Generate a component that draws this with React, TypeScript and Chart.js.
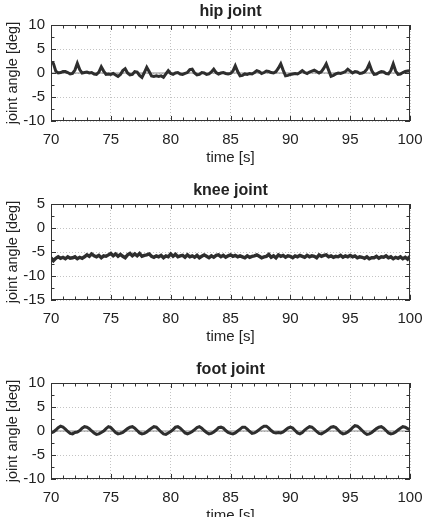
import React, { useEffect, useRef } from "react";
import { Chart, registerables } from "chart.js";

Chart.register(...registerables);

// sampling grid of the recorded signals
const TIME_START = 70;
const TIME_STEP = 0.2;
const X_MIN = 70;
const X_MAX = 100;
const X_TICK_STEP = 5;

const TITLES = ["hip joint", "knee joint", "foot joint"];
const X_LABEL = "time [s]";
const Y_LABEL = "joint angle [deg]";

const HIP_RANGE = [-10, 10];
const KNEE_RANGE = [-15, 5];
const FOOT_RANGE = [-10, 10];

// hip joint angle [deg], one row per second (0.2 s steps)
const HIP = [
  2.3, 2.0, 0.4, 0.0, 0.1,
  0.3, 0.3, 0.1, -0.2, -0.1,
  0.6, 2.0, 0.7, 0.0, 0.1,
  0.2, 0.0, 0.1, -0.2, -0.3,
  0.2, 1.3, 0.4, -0.3, -0.2,
  -0.3, -0.1, -0.4, -0.7, -0.3,
  0.5, 0.9, 0.0, -0.4, -0.3,
  0.3, 0.2, -0.5, -0.9, 0.1,
  1.2, 0.3, -0.6, -0.7, -0.6,
  -0.7, -0.6, -0.9, -0.2, 0.5,
  -0.1, -0.3, 0.0, 0.1, -0.2,
  -0.3, -0.1, 0.1, 0.7, 0.8,
  0.0, -0.4, -0.3, 0.1, 0.0,
  -0.3, -0.2, 0.2, 0.8, 0.1,
  -0.2, 0.0, 0.1, -0.1, -0.2,
  -0.1, 0.4, 1.5, 0.3, -0.6,
  -0.5, -0.2, -0.3, -0.1, -0.2,
  0.1, 0.5, 0.3, -0.1, 0.1,
  0.4, 0.3, 0.1, 0.0, 0.3,
  1.0, 1.9, 0.6, -0.6, -0.5,
  -0.3, -0.2, -0.1, -0.2, 0.1,
  0.5, 0.1, -0.1, 0.2, 0.4,
  0.6, 0.3, 0.0, 0.3, 1.0,
  1.9, 0.6, -0.7, -0.5, -0.2,
  0.0, -0.1, 0.1, 0.3, 0.8,
  0.4, 0.0, 0.3, 0.2, -0.1,
  0.0, 0.2, 0.8, 1.9, 0.5,
  -0.3, -0.2, 0.1, 0.3, 0.2,
  -0.1, -0.2, 0.5, 1.9, 0.4,
  -0.3, -0.2, 0.1, 0.3, 0.4,
  0.5,
];

// knee joint angle [deg]
const KNEE = [
  -6.2, -6.8, -6.3, -6.0, -6.3,
  -6.1, -6.4, -6.0, -6.3, -6.2,
  -6.0, -6.4, -6.1, -6.3, -6.0,
  -5.6, -5.9, -5.4, -5.8, -6.0,
  -5.7, -6.2, -5.8, -5.9, -5.6,
  -5.3, -5.8, -5.4, -5.9, -5.5,
  -5.9, -6.2, -5.6, -5.3, -5.8,
  -5.4, -5.8, -5.3, -5.9, -5.7,
  -5.6, -5.4, -5.9, -6.1, -5.8,
  -6.0, -5.7, -6.2, -5.8, -6.0,
  -5.4, -5.9, -5.5, -6.0, -5.8,
  -5.7, -6.1, -5.6, -6.0, -5.8,
  -6.1, -5.7, -6.2, -5.9, -5.6,
  -5.9, -6.2, -5.8, -6.1, -5.7,
  -5.6, -6.0, -5.7, -6.1, -5.8,
  -5.6, -5.9, -5.7, -6.0, -5.8,
  -6.0, -6.2, -5.8, -6.1, -5.9,
  -5.8, -5.6, -5.9, -6.2, -6.0,
  -5.9, -5.5, -6.1, -5.8, -6.2,
  -5.6, -5.9, -5.7, -6.1, -5.8,
  -5.9, -6.2, -5.8, -6.0, -5.7,
  -5.9, -6.1, -5.7, -6.0, -5.8,
  -5.9, -6.2, -5.6, -5.9, -5.7,
  -5.6, -6.0, -5.8, -6.1, -5.9,
  -6.0, -5.7, -6.1, -5.8, -6.0,
  -5.7, -6.0, -5.8, -6.2, -6.0,
  -6.1, -6.3, -6.0, -6.4, -6.2,
  -6.2, -5.9, -6.3, -6.0, -6.1,
  -5.8, -6.2, -6.0, -6.4, -6.1,
  -6.3, -6.0, -6.4, -6.1, -6.5,
  -5.9,
];

// foot joint angle [deg]
const FOOT = [
  -0.4, -0.2, 0.2, 0.7, 1.0,
  0.8, 0.4, -0.1, -0.5, -0.6,
  -0.3, -0.2, 0.1, 0.6, 0.9,
  0.8, 0.5, 0.0, -0.4, -0.7,
  -0.6, -0.3, 0.0, 0.5, 0.9,
  0.7, 0.2, -0.3, -0.6, -0.5,
  -0.3, 0.1, 0.5, 0.8, 0.9,
  0.6, 0.1, -0.4, -0.6, -0.5,
  -0.2, 0.2, 0.6, 0.9, 0.8,
  0.3, -0.2, -0.6, -0.7, -0.4,
  -0.1, 0.3, 0.8, 0.9, 0.6,
  0.1, -0.4, -0.6, -0.4, -0.1,
  0.3, 0.7, 0.9, 0.6, 0.1,
  -0.3, -0.6, -0.5, -0.2, 0.2,
  0.7, 0.8, 0.6, 0.1, -0.3,
  -0.5, -0.6, -0.4, 0.0, 0.4,
  0.8, 0.8, 0.4, -0.1, -0.5,
  -0.4, -0.1, 0.3, 0.7, 1.0,
  1.0, 0.6, 0.1, -0.3, -0.4,
  -0.3, -0.4, -0.2, 0.2, 0.6,
  0.8, 0.6, 0.1, -0.4, -0.6,
  -0.3, 0.2, 0.6, 0.9, 0.8,
  0.4, -0.1, -0.5, -0.6, -0.3,
  0.0, 0.4, 0.8, 0.9, 0.7,
  0.2, -0.3, -0.6, -0.5, -0.2,
  0.2, 0.7, 1.1, 1.0, 0.6,
  0.1, -0.4, -0.7, -0.6, -0.3,
  0.1, 0.5, 0.8, 0.9, 0.6,
  0.1, -0.4, -0.6, -0.5, -0.2,
  0.2, 0.6, 0.9, 0.8, 0.5,
  0.3,
];

const REFERENCE = [0, 0];

const FONT = "'Liberation Sans', Arial, Helvetica, sans-serif";
const TEXT = "#222";
const LINE = "#2e2e2e";

const toPoints = (vals: number[]) =>
  vals.map((v, i) => ({ x: Math.round((TIME_START + i * TIME_STEP) * 10) / 10, y: v }));

// box, inward tick marks and a title centred over the plot area
const framePlugin = {
  id: "frame",
  afterDatasetsDraw(chart: any, _args: any, opts: any) {
    const { ctx, chartArea: a, scales } = chart;
    const x = scales.x;
    const y = scales.y;
    ctx.save();
    ctx.strokeStyle = "#333";
    ctx.lineWidth = 1;
    ctx.beginPath();
    for (let t = x.min; t <= x.max + 1e-6; t += 1) {
      const px = Math.round(x.getPixelForValue(t)) + 0.5;
      const len = Math.abs(t % 5) < 1e-6 ? 5 : 3.5;
      ctx.moveTo(px, a.top);
      ctx.lineTo(px, a.top + len);
      ctx.moveTo(px, a.bottom);
      ctx.lineTo(px, a.bottom - len);
    }
    for (let v = y.min; v <= y.max + 1e-6; v += 2.5) {
      const py = Math.round(y.getPixelForValue(v)) + 0.5;
      const len = Math.abs(v % 5) < 1e-6 ? 5 : 3.5;
      ctx.moveTo(a.left, py);
      ctx.lineTo(a.left + len, py);
      ctx.moveTo(a.right, py);
      ctx.lineTo(a.right - len, py);
    }
    ctx.stroke();
    ctx.strokeRect(
      Math.round(a.left) + 0.5,
      Math.round(a.top) + 0.5,
      Math.round(a.right - a.left) - 1,
      Math.round(a.bottom - a.top) - 1
    );
    if (opts && opts.text) {
      ctx.fillStyle = TEXT;
      ctx.font = "bold 16px " + FONT;
      ctx.textAlign = "center";
      ctx.textBaseline = "middle";
      ctx.fillText(opts.text, (a.left + a.right) / 2, 12);
    }
    ctx.restore();
  },
};

function Panel({ title, values, range, showRef, top, lineWidth }: any) {
  const ref = useRef<HTMLCanvasElement | null>(null);
  useEffect(() => {
    const datasets: any[] = [
      {
        data: toPoints(values),
        borderColor: LINE,
        borderWidth: lineWidth,
        pointRadius: 0,
        tension: 0,
        fill: false,
      },
    ];
    if (showRef) {
      datasets.push({
        data: [
          { x: X_MIN, y: REFERENCE[0] },
          { x: X_MAX, y: REFERENCE[1] },
        ],
        borderColor: "#8a8a8a",
        borderWidth: 1.2,
        pointRadius: 0,
        fill: false,
      });
    }
    const chart = new Chart(ref.current as HTMLCanvasElement, {
      type: "line",
      data: { datasets },
      plugins: [framePlugin],
      options: {
        animation: false,
        responsive: false,
        devicePixelRatio: 1,
        layout: { padding: { left: 0, right: 15, top: 25, bottom: 0 } },
        plugins: {
          legend: { display: false },
          tooltip: { enabled: false },
          title: { display: false },
          frame: { text: title },
        },
        scales: {
          x: {
            type: "linear",
            min: X_MIN,
            max: X_MAX,
            afterFit: (s: any) => {
              s.height = 47;
              s.paddingLeft = 0;
              s.paddingRight = 0;
            },
            ticks: {
              stepSize: X_TICK_STEP,
              color: TEXT,
              font: { family: FONT, size: 15 },
              padding: 10,
              maxRotation: 0,
            },
            grid: { color: "#c4c4c4", drawTicks: false, lineWidth: 1 },
            border: { display: false, dash: [1, 2] },
            title: {
              display: true,
              text: X_LABEL,
              color: TEXT,
              font: { family: FONT, size: 15 },
              padding: { top: 0, bottom: 1 },
            },
          },
          y: {
            type: "linear",
            min: range[0],
            max: range[1],
            afterFit: (s: any) => {
              s.width = 51;
              s.paddingTop = 0;
              s.paddingBottom = 0;
            },
            ticks: {
              stepSize: 5,
              color: TEXT,
              font: { family: FONT, size: 15 },
              padding: 6,
            },
            grid: { color: "#c4c4c4", drawTicks: false, lineWidth: 1 },
            border: { display: false, dash: [1, 2] },
            title: {
              display: true,
              text: Y_LABEL,
              color: TEXT,
              font: { family: FONT, size: 14.5 },
              padding: { top: 4, bottom: 0 },
            },
          },
        },
      },
    } as any);
    return () => chart.destroy();
  }, [title, values, range, showRef, lineWidth]);

  return (
    <div style={{ position: "absolute", left: 0, top, width: 425, height: 168 }}>
      <canvas ref={ref} width={425} height={168} style={{ display: "block" }} />
    </div>
  );
}

export default function App() {
  return (
    <div
      style={{
        position: "absolute",
        left: 0,
        top: 0,
        width: 425,
        height: 517,
        overflow: "hidden",
        background: "#fff",
      }}
    >
      <Panel title={TITLES[0]} values={HIP} range={HIP_RANGE} showRef={true} top={0} lineWidth={3} />
      <Panel title={TITLES[1]} values={KNEE} range={KNEE_RANGE} showRef={false} top={179} lineWidth={3.4} />
      <Panel title={TITLES[2]} values={FOOT} range={FOOT_RANGE} showRef={true} top={358} lineWidth={3} />
    </div>
  );
}
